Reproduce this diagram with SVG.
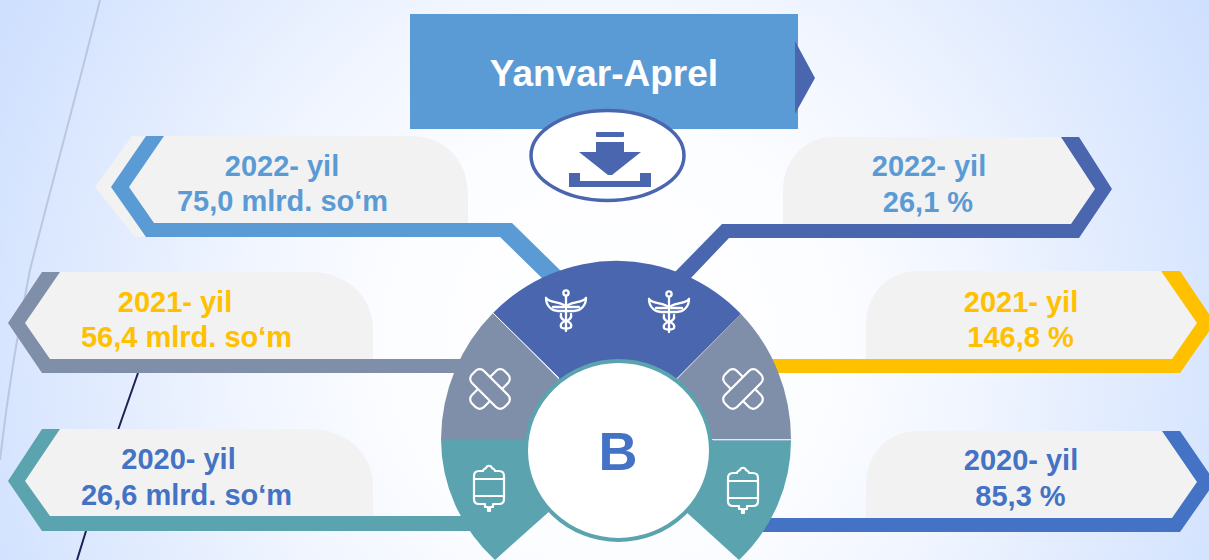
<svg xmlns="http://www.w3.org/2000/svg" xmlns:xlink="http://www.w3.org/1999/xlink" width="1209" height="560" viewBox="0 0 1209 560">
<defs>
<radialGradient id="bg" gradientUnits="userSpaceOnUse" cx="610" cy="340" r="680">
<stop offset="0" stop-color="#ffffff"/><stop offset="0.32" stop-color="#fcfdff"/><stop offset="0.55" stop-color="#f0f5ff"/><stop offset="1" stop-color="#cfe0fe"/>
</radialGradient>
<g id="cad" fill="none" stroke="#fff" stroke-width="2.300" stroke-linecap="round" stroke-linejoin="round">
<circle cx="0" cy="-16" r="2.600"/>
<path d="M0-13V22"/>
<path d="M-20-11C-16-6-9-8-2-4M-20-11C-20-3-14 2-8 2H-1"/>
<path d="M20-11C16-6 9-8 2-4M20-11C20-3 14 2 8 2H1"/>
<path d="M-13-2H-2M13-2H2"/>
<path d="M-5 5C-6 9-3 11 0 12 4 13 6 15 5 18 4 20-4 20-5 18-6 15-4 13 0 12 3 11 6 9 5 5"/>
</g>
<g id="band" fill="none" stroke="#fff" stroke-width="2.200" stroke-linejoin="round">
<rect x="-23" y="-8.500" width="46" height="17" rx="6" transform="rotate(45)"/>
<path transform="rotate(-45)" d="M8.500-8.500H17A6 6 0 0 1 23-2.500V2.500A6 6 0 0 1 17 8.500H8.500M-8.500-8.500H-17A6 6 0 0 0-23-2.500V2.500A6 6 0 0 0-17 8.500H-8.500"/>
</g>
<g id="bag" fill="none" stroke="#fff" stroke-width="2.200" stroke-linejoin="round">
<path d="M-6-17C-6-19-4-19-3-20-2-23 2-23 3-20 4-19 6-19 6-17H10C13-17 15-15 15-12V11C15 14 13 16 10 16H4V19H1V23H-1V19H-4V16H-10C-13 16-15 14-15 11V-12C-15-15-13-17-10-17Z"/>
<path d="M-15-9H15M-15 8H15"/>
</g>
<style>
.t{font-family:"Liberation Sans",Arial,sans-serif;font-weight:700;font-size:29px;text-anchor:middle}
.p{fill:#f2f2f2}
</style>
</defs>
<rect width="1209" height="560" fill="url(#bg)"/>
<path d="M100 0C75 100 45 210 30 270 20 320 8 390 0 460" fill="none" stroke="#bcc6e0" stroke-width="2"/>
<path d="M138 373 118 430M86 531 77 560" fill="none" stroke="#1f2155" stroke-width="2"/>
<g id="connectors">
<path class="p" d="M132 136H410C445 136 468 160 468 195V223H154L146 237H135L95 187Z"/>
<path class="p" d="M42 272H310C345 272 373 295 373 330V360H50L25 323Z"/>
<path class="p" d="M42 429H310C345 429 373 452 373 487V517H50L25 481Z"/>
<path class="p" d="M1079 137H833C805 137 783 160 783 190V225H1072L1095 189Z"/>
<path class="p" d="M1180 271H917C889 271 866 294 866 324V360H1172L1197 323Z"/>
<path class="p" d="M1180 431H917C889 431 866 454 866 484V519H1172L1197 482Z"/>
<path fill="#5b9bd5" d="M146 136H164L129 187 154 223H512L562 272 546 282 500 237H146L111 187Z"/>
<path fill="#808fa9" d="M42 272H60L25 323 50 359H470V373H42L8 323Z"/>
<path fill="#5ba3af" d="M42 429H60L25 481 50 516H480V531H42L8 481Z"/>
<path fill="#4a66ae" d="M1061 137H1079L1112 189 1079 238H729L690 279 675 272 722 224H1071L1095 189Z"/>
<path fill="#ffc000" d="M1161 271H1180L1215 323 1180 373H770V359H1172L1197 323Z"/>
<path fill="#4472c4" d="M1162 431H1180L1215 482 1180 532H760V518H1172L1197 482Z"/>
</g>
<g id="header">
<rect x="410" y="14" width="388" height="115" fill="#5b9bd5"/>
<path d="M795 41 815 78 795 114Z" fill="#4a66ae"/>
<text x="604" y="86" class="t" style="font-size:37px" fill="#fff">Yanvar-Aprel</text>
</g>
<g id="download">
<ellipse cx="607.500" cy="155.500" rx="76.500" ry="45" fill="#fff" stroke="#4a66ae" stroke-width="3.500"/>
<path fill="#4a66ae" d="M597 132H623Q624 132 624 133V136Q624 137 623 137H597Q596 137 596 136V133Q596 132 597 132ZM596 142H624V152H641L612 175H608L579 152H596ZM569 173H580V181H640V173H651V187H569Z"/>
</g>
<g id="ring">
<path fill="#4a66ae" d="M493 313A175 179 0 0 1 741 314L618 437Z"/>
<path fill="#808fa9" d="M493 313 618 439H441A175 179 0 0 1 493 313Z"/>
<path fill="#808fa9" d="M741 314 618 439H791A175 179 0 0 0 741 314Z"/>
<path fill="#5ba3af" d="M441 439H618V450L495 560A175 168 0 0 1 441 439Z"/>
<path fill="#5ba3af" d="M791 440H618V450L739 560A175 168 0 0 0 791 440Z"/>
<path d="M493 313 559 378" stroke="#fff" stroke-width="1" fill="none"/>
<path d="M713 440H791" stroke="#c4d0df" stroke-width="1" fill="none"/>
<ellipse cx="618.500" cy="450.500" rx="92.500" ry="89.500" fill="#fff" stroke="#5ba3af" stroke-width="4"/>
<text x="618" y="470" class="t" style="font-size:54px" fill="#4472c4">B</text>
<use xlink:href="#cad" href="#cad" x="566" y="309"/>
<use xlink:href="#cad" href="#cad" x="669" y="310"/>
<use xlink:href="#band" href="#band" x="490" y="389"/>
<use xlink:href="#band" href="#band" transform="translate(743 389) scale(-1 1)"/>
<use xlink:href="#bag" href="#bag" x="489" y="488"/>
<use xlink:href="#bag" href="#bag" x="743" y="490"/>
</g>
<g id="l1"><text x="282" y="176" class="t" fill="#5b9bd5">2022- yil</text><text x="282.500" y="211" class="t" fill="#5b9bd5">75,0 mlrd. so‘m</text></g>
<g id="l2"><text x="175" y="312" class="t" fill="#ffc000">2021- yil</text><text x="186.500" y="347" class="t" fill="#ffc000">56,4 mlrd. so‘m</text></g>
<g id="l3"><text x="178.500" y="469" class="t" fill="#4472c4">2020- yil</text><text x="186.500" y="505" class="t" fill="#4472c4">26,6 mlrd. so‘m</text></g>
<g id="r1"><text x="929" y="176" class="t" fill="#5b9bd5">2022- yil</text><text x="928" y="212" class="t" fill="#5b9bd5">26,1 %</text></g>
<g id="r2"><text x="1021" y="312" class="t" fill="#ffc000">2021- yil</text><text x="1020.500" y="347" class="t" fill="#ffc000">146,8 %</text></g>
<g id="r3"><text x="1021" y="470" class="t" fill="#4472c4">2020- yil</text><text x="1020.500" y="506" class="t" fill="#4472c4">85,3 %</text></g>
</svg>
